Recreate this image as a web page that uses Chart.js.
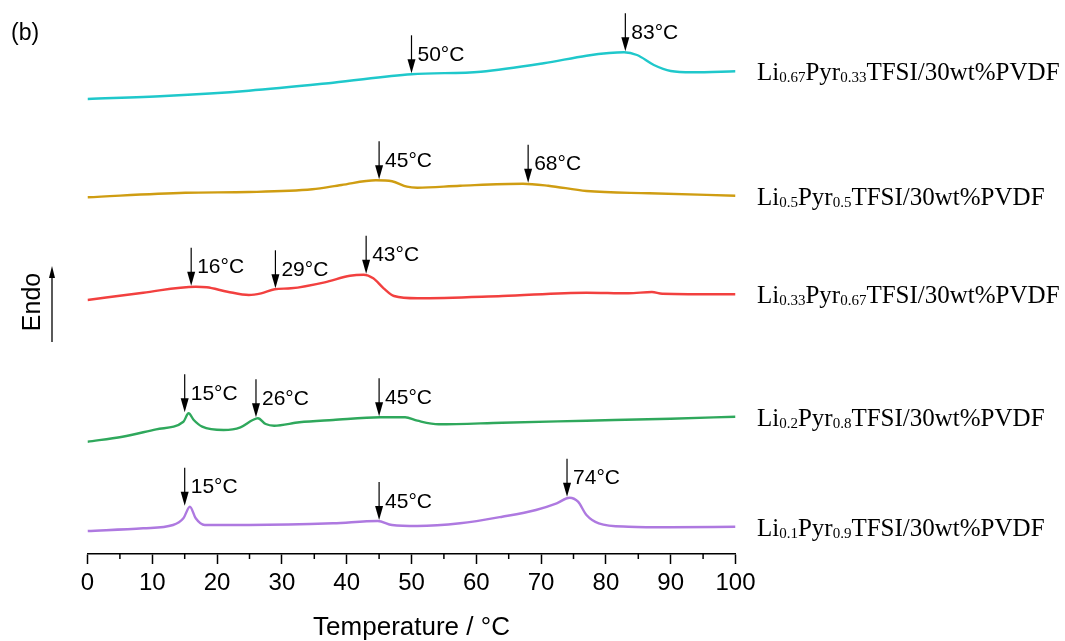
<!DOCTYPE html>
<html>
<head>
<meta charset="utf-8">
<title>DSC curves</title>
<script src="https://cdn.jsdelivr.net/npm/chart.js@4.4.1/dist/chart.umd.min.js"></script>
<style>
  html, body { margin: 0; padding: 0; background: #ffffff; }
  canvas { display: block; }
</style>
</head>
<body>
<canvas id="dsc" width="1065" height="641"></canvas>
<script>
// Heat-flow traces (endo up), offset vertically per composition
const li067Temp = [0, 11.9, 24.9, 37.9, 50, 60.7, 70.4, 77, 80.5, 82.8, 84.8, 87.4, 90, 93.3, 100];
const li067Heat = [455, 458, 463.3, 471.3, 479.7, 482.3, 490.7, 498.3, 501, 501.7, 499, 489, 483, 481.7, 482.7];

const li05Temp = [0, 15.1, 24.9, 34.7, 39.2, 44.5, 47, 49.3, 50.9, 57.5, 67.2, 71.1, 77, 86.7, 100];
const li05Heat = [356.7, 361.3, 362, 364.7, 369, 373.7, 372.7, 367.3, 366.3, 368.3, 370.3, 368.3, 363, 360.7, 358.3];

const li033Temp = [0, 8.6, 16.7, 18.4, 21.6, 24.9, 26.8, 28.9, 31.4, 36.6, 40.5, 42.6, 44.1, 45.7, 47.3, 50.9, 64, 77, 83.5, 87.1, 88.7, 100];
const li033Heat = [254, 261.3, 267.3, 266.7, 262.3, 259, 260.7, 264.7, 265.7, 271.7, 278.3, 279.3, 275.7, 265.7, 258, 255.7, 258, 261.3, 260.7, 262, 260.3, 259.7];

const li02Temp = [0, 5.4, 10.6, 14.8, 15.6, 16.4, 17.7, 21, 23.6, 25.5, 26.3, 27.5, 28.8, 32.7, 37.9, 45.2, 49, 50.9, 54.2, 64, 77, 90, 100];
const li02Heat = [112.3, 117.3, 124.7, 132.3, 140.7, 134, 127.3, 124, 126.7, 134, 135.7, 130, 128.3, 131.7, 134, 136.7, 136.7, 133.3, 129.7, 131.3, 133.3, 135.3, 137.3];

const li01Temp = [0, 8.6, 13.2, 14.8, 15.8, 16.7, 18.1, 24.9, 37.9, 44.8, 47, 50.9, 57.5, 64, 69.2, 72.4, 74.4, 75.7, 77, 78.9, 83.5, 90, 100];
const li01Heat = [23, 25.7, 29, 35.7, 47.3, 35.7, 29, 29, 30.7, 33, 29, 28, 30.7, 37.3, 44, 50.7, 56.3, 52.3, 39, 30.7, 27.3, 26.7, 27.3];

const seriesNames = [
  'Li0.67Pyr0.33TFSI/30wt%PVDF',
  'Li0.5Pyr0.5TFSI/30wt%PVDF',
  'Li0.33Pyr0.67TFSI/30wt%PVDF',
  'Li0.2Pyr0.8TFSI/30wt%PVDF',
  'Li0.1Pyr0.9TFSI/30wt%PVDF'
];
const seriesColors = ['#1fc8cb', '#cf9d12', '#f2403f', '#2fa85c', '#ae79e0'];
// Transition temperatures marked with arrows (°C)
const peakTemps = [[50, 83], [45, 68], [16, 29, 43], [15, 26, 45], [15, 45, 74]];

const xTicks = [0, 10, 20, 30, 40, 50, 60, 70, 80, 90, 100];
const xMinorTicks = [5, 15, 25, 35, 45, 55, 65, 75, 85, 95];
const xTitle = 'Temperature / °C';
const panelTag = '(b)';
const endoLabel = 'Endo';

const temps = [li067Temp, li05Temp, li033Temp, li02Temp, li01Temp];
const heats = [li067Heat, li05Heat, li033Heat, li02Heat, li01Heat];

const datasets = seriesNames.map((name, i) => ({
  label: name,
  data: temps[i].map((t, k) => ({ x: t, y: heats[i][k] })),
  borderColor: seriesColors[i],
  borderWidth: 2.4,
  pointRadius: 0,
  fill: false,
  tension: 0.4,
  cubicInterpolationMode: 'monotone'
}));

const SANS = '"Liberation Sans", Arial, sans-serif';
const SERIF = '"Liberation Serif", "Times New Roman", serif';

function peakValue(ts, hs, T) {
  let best = null;
  ts.forEach((t, k) => {
    if (Math.abs(t - T) <= 1.0 && (best === null || hs[k] > best)) best = hs[k];
  });
  if (best !== null) return best;
  for (let k = 0; k < ts.length - 1; k++) {
    if (T >= ts[k] && T <= ts[k + 1]) {
      const f = (T - ts[k]) / (ts[k + 1] - ts[k]);
      return hs[k] + f * (hs[k + 1] - hs[k]);
    }
  }
  return hs[hs.length - 1];
}

function downArrow(ctx, x, yTip, len) {
  ctx.save();
  ctx.strokeStyle = '#000';
  ctx.fillStyle = '#000';
  ctx.lineWidth = 1.2;
  ctx.beginPath();
  ctx.moveTo(x, yTip - len);
  ctx.lineTo(x, yTip - 10);
  ctx.stroke();
  ctx.beginPath();
  ctx.moveTo(x, yTip);
  ctx.lineTo(x - 4, yTip - 14);
  ctx.lineTo(x + 4, yTip - 14);
  ctx.closePath();
  ctx.fill();
  ctx.restore();
}

const decorations = {
  id: 'decorations',
  beforeDraw(chart) {
    const ctx = chart.ctx;
    ctx.save();
    ctx.fillStyle = '#ffffff';
    ctx.fillRect(0, 0, chart.width, chart.height);
    ctx.restore();
  },
  afterDraw(chart) {
    const ctx = chart.ctx;
    const xs = chart.scales.x;
    const ys = chart.scales.y;
    const axisY = xs.top;

    // minor ticks
    ctx.save();
    ctx.strokeStyle = '#000';
    ctx.lineWidth = 1.5;
    xMinorTicks.forEach(v => {
      const px = xs.getPixelForValue(v);
      ctx.beginPath();
      ctx.moveTo(px, axisY);
      ctx.lineTo(px, axisY + 5);
      ctx.stroke();
    });
    ctx.restore();

    // transition arrows and their labels
    peakTemps.forEach((list, i) => {
      list.forEach(T => {
        const px = xs.getPixelForValue(T);
        const tip = ys.getPixelForValue(peakValue(temps[i], heats[i], T)) - 1;
        const len = 38;
        downArrow(ctx, px, tip, len);
        ctx.save();
        ctx.fillStyle = '#000';
        ctx.font = '21px ' + SANS;
        ctx.textAlign = 'left';
        ctx.textBaseline = 'middle';
        ctx.fillText(T + '°C', px + 6, tip - len / 2 + 1);
        ctx.restore();
      });
    });

    // composition labels at the right end of each trace
    seriesNames.forEach((name, i) => {
      const hs = heats[i];
      const y = ys.getPixelForValue(hs[hs.length - 1]) + 1;
      let x = 757;
      const parts = name.split(/(\d+\.\d+)/);
      ctx.save();
      ctx.fillStyle = '#000';
      ctx.textAlign = 'left';
      ctx.textBaseline = 'alphabetic';
      const base = y + 8;
      parts.forEach(p => {
        if (!p) return;
        const sub = /^\d+\.\d+$/.test(p);
        ctx.font = (sub ? '15px ' : '25px ') + SERIF;
        ctx.fillText(p, x, sub ? base + 2 : base);
        x += ctx.measureText(p).width;
      });
      ctx.restore();
    });

    // panel tag
    ctx.save();
    ctx.fillStyle = '#000';
    ctx.font = '23px ' + SANS;
    ctx.textAlign = 'left';
    ctx.textBaseline = 'middle';
    ctx.fillText(panelTag, 11, 34);
    ctx.restore();

    // "Endo" with upward arrow
    ctx.save();
    ctx.fillStyle = '#000';
    ctx.font = '25px ' + SANS;
    ctx.translate(33, 302);
    ctx.rotate(-Math.PI / 2);
    ctx.textAlign = 'center';
    ctx.textBaseline = 'middle';
    ctx.fillText(endoLabel, 0, 0);
    ctx.restore();

    ctx.save();
    ctx.strokeStyle = '#000';
    ctx.fillStyle = '#000';
    ctx.lineWidth = 1.3;
    ctx.beginPath();
    ctx.moveTo(52, 342);
    ctx.lineTo(52, 275);
    ctx.stroke();
    ctx.beginPath();
    ctx.moveTo(52, 266);
    ctx.lineTo(49, 278);
    ctx.lineTo(55, 278);
    ctx.closePath();
    ctx.fill();
    ctx.restore();
  }
};

new Chart(document.getElementById('dsc'), {
  type: 'line',
  data: { datasets },
  options: {
    responsive: false,
    devicePixelRatio: 1,
    animation: false,
    layout: { padding: { left: 87.5, right: 329.5, top: 10, bottom: 0 } },
    plugins: { legend: { display: false }, tooltip: { enabled: false } },
    scales: {
      x: {
        type: 'linear',
        min: 0,
        max: 100,
        afterBuildTicks(scale) { scale.ticks = xTicks.map(v => ({ value: v })); },
        afterFit(scale) { scale.height = 87; },
        border: { display: true, color: '#000', width: 1.5 },
        grid: { display: true, drawOnChartArea: false, drawTicks: true, tickLength: 10, tickColor: '#000', tickWidth: 1.5 },
        ticks: { color: '#000', font: { family: SANS, size: 24 }, padding: 5, maxRotation: 0 },
        title: { display: true, text: xTitle, color: '#000', font: { family: SANS, size: 26 }, padding: { top: 0, bottom: -2 } }
      },
      y: {
        type: 'linear',
        display: false,
        min: 0,
        max: 544
      }
    }
  },
  plugins: [decorations]
});
</script>
</body>
</html>
